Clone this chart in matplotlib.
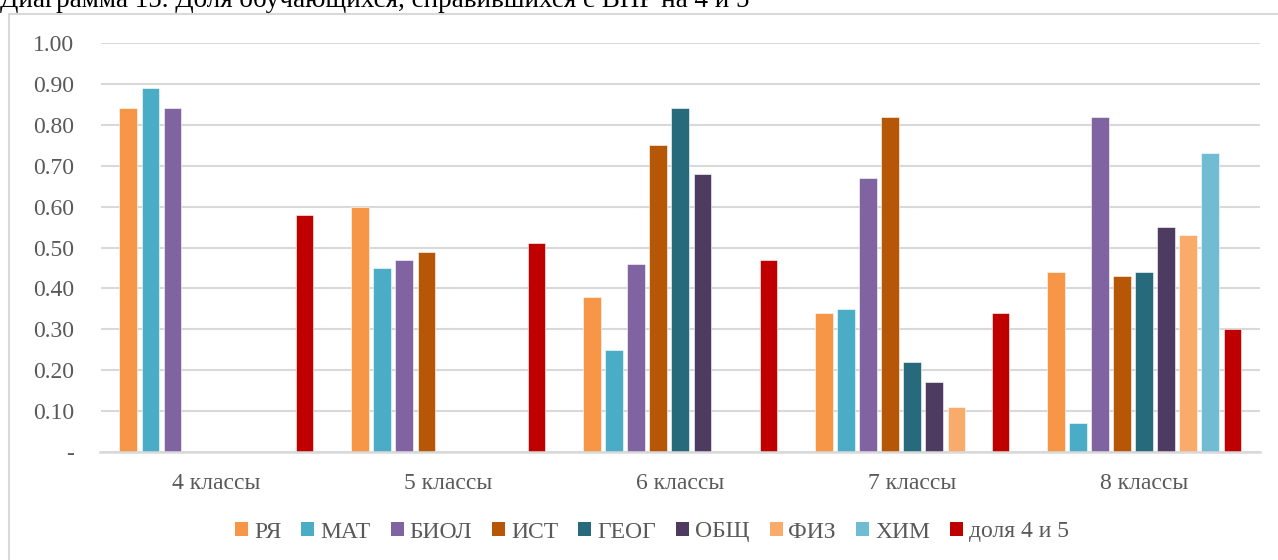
import matplotlib
matplotlib.use("Agg")
import matplotlib.pyplot as plt
import numpy as np
from matplotlib.lines import Line2D
from matplotlib.patches import Patch

plt.rcParams['font.family'] = ['Liberation Serif', 'DejaVu Serif']

categories = ["4 классы", "5 классы", "6 классы", "7 классы", "8 классы"]
series_names = ["РЯ", "МАТ", "БИОЛ", "ИСТ", "ГЕОГ", "ОБЩ", "ФИЗ", "ХИМ", "доля 4 и 5"]
nan = np.nan
RYA  = [0.84, 0.60, 0.38, 0.34, 0.44]
MAT  = [0.89, 0.45, 0.25, 0.35, 0.07]
BIOL = [0.84, 0.47, 0.46, 0.67, 0.82]
IST  = [nan, 0.49, 0.75, 0.82, 0.43]
GEOG = [nan, nan, 0.84, 0.22, 0.44]
OBSH = [nan, nan, 0.68, 0.17, 0.55]
FIZ  = [nan, nan, nan, 0.11, 0.53]
HIM  = [nan, nan, nan, nan, 0.73]
DOLYA = [0.58, 0.51, 0.47, 0.34, 0.30]
series_values = [RYA, MAT, BIOL, IST, GEOG, OBSH, FIZ, HIM, DOLYA]
colors = ["#F79646", "#4BACC6", "#8064A2", "#B65708", "#276A7C",
          "#4D3B62", "#F9AB6B", "#70BCD2", "#C00000"]
yticks = [0.0, 0.1, 0.2, 0.3, 0.4, 0.5, 0.6, 0.7, 0.8, 0.9, 1.0]
ytick_labels = ["-", "0.10", "0.20", "0.30", "0.40", "0.50", "0.60", "0.70", "0.80", "0.90", "1.00"]
title = "Диаграмма 15. Доля обучающихся, справившихся с ВПР на 4 и 5"

W, H = 1278, 560
fig = plt.figure(figsize=(W / 100, H / 100), dpi=100)
left, right = 100.5, 1260
bottom, top = 452, 43
ax = fig.add_axes([left / W, 1 - bottom / H, (right - left) / W, (bottom - top) / H])

x = np.arange(len(categories))
slot = 0.0951
bw = 0.0755
n = len(series_names)
for i, (name, vals, c) in enumerate(zip(series_names, series_values, colors)):
    offs = (i - (n - 1) / 2) * slot
    v = np.array(vals, dtype=float)
    ax.bar(x + offs, np.nan_to_num(v), width=bw, color=c, label=name, zorder=3,
           edgecolor='white', linewidth=0.4)

ax.set_xlim(-0.5, len(categories) - 0.5)
ax.set_ylim(0, 1.0)
ax.set_yticks(yticks)
ax.set_yticklabels(ytick_labels)
ax.set_xticks(x)
ax.set_xticklabels(categories)
ax.tick_params(axis='y', length=0, pad=19, labelsize=17, labelcolor='#595959')
ax.tick_params(axis='x', length=0, pad=15, labelsize=17, labelcolor='#595959')
ax.grid(axis='y', color='#D9D9D9', linewidth=1.5, zorder=0)
for s in ['top', 'right', 'left']:
    ax.spines[s].set_visible(False)
ax.spines['bottom'].set_color('#D9D9D9')
ax.spines['bottom'].set_linewidth(1.8)
ax.spines['bottom'].set_zorder(4)

handles = [Patch(facecolor=c, edgecolor='none') for c in colors]
fig.legend(handles, series_names, loc='center', bbox_to_anchor=(652 / W, 1 - 532 / H),
           ncol=9, frameon=False, fontsize=17, handlelength=0.55, handleheight=0.55,
           handletextpad=0.25, columnspacing=0.85, labelcolor='#595959')

# outer chart frame
fig.add_artist(Line2D([8.5 / W, 1.0], [1 - 14 / H, 1 - 14 / H], color='#D9D9D9', linewidth=1.5,
                      transform=fig.transFigure))
fig.add_artist(Line2D([9 / W, 9 / W], [0, 1 - 14 / H], color='#D9D9D9', linewidth=1.5,
                      transform=fig.transFigure))

fig.text(0 / W, 1 - 7 / H, title, fontsize=19.5, color='black', ha='left', va='baseline')

fig.savefig("out.png", dpi=100)
